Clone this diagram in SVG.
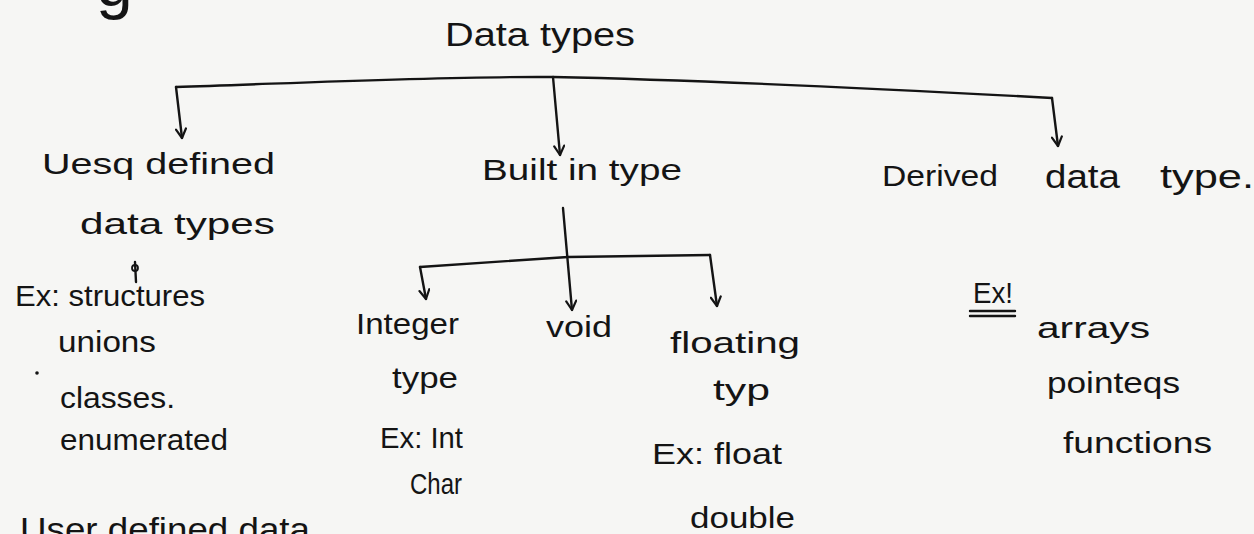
<svg xmlns="http://www.w3.org/2000/svg" width="1254" height="534" viewBox="0 0 1254 534">
  <style>
    .t { font-family: "Liberation Sans", "DejaVu Sans", sans-serif; fill: #141414; font-size: 30px; }
    .big { font-size: 34px; }
    .ln { fill: none; stroke: #141414; stroke-width: 2.4; stroke-linecap: round; stroke-linejoin: round; }
  </style>
  <defs>
    <!-- open V arrowhead, tip at the end of the line -->
    <marker id="head" viewBox="0 0 12 12" refX="11" refY="6" markerWidth="12" markerHeight="12" markerUnits="userSpaceOnUse" orient="auto">
      <path d="M2 1 L11 6 L2 11" fill="none" stroke="#141414" stroke-width="2.2" stroke-linecap="round" stroke-linejoin="round"/>
    </marker>
  </defs>
  <rect width="1254" height="534" fill="#f6f6f4"/>

  <!-- tail of a heading above the page edge -->
  <text class="t" x="96" y="6" style="font-size:66px">g</text>

  <g id="root">
    <text class="t big" x="445" y="46" textLength="190" lengthAdjust="spacingAndGlyphs">Data types</text>
  </g>

  <g id="user-defined">
    <text class="t" x="42" y="174" textLength="233" lengthAdjust="spacingAndGlyphs">Uesq defined</text>
    <text class="t" x="80" y="234" textLength="195" lengthAdjust="spacingAndGlyphs">data types</text>
    <text class="t" x="15" y="306" textLength="190" lengthAdjust="spacingAndGlyphs">Ex: structures</text>
    <circle cx="37" cy="373" r="1.8" fill="#141414"/>
    <text class="t" x="58" y="352" textLength="98" lengthAdjust="spacingAndGlyphs">unions</text>
    <text class="t" x="60" y="408" textLength="115" lengthAdjust="spacingAndGlyphs">classes.</text>
    <text class="t" x="60" y="450" textLength="168" lengthAdjust="spacingAndGlyphs">enumerated</text>
  </g>

  <g id="built-in">
    <text class="t" x="482" y="180" textLength="200" lengthAdjust="spacingAndGlyphs">Built in type</text>
  </g>

  <g id="integer">
    <text class="t" x="356" y="334" textLength="103" lengthAdjust="spacingAndGlyphs">Integer</text>
    <text class="t" x="392" y="388" textLength="66" lengthAdjust="spacingAndGlyphs">type</text>
    <text class="t" x="380" y="448" textLength="83" lengthAdjust="spacingAndGlyphs">Ex: Int</text>
    <text class="t" x="410" y="494" textLength="52" lengthAdjust="spacingAndGlyphs">Char</text>
  </g>

  <g id="void">
    <text class="t" x="546" y="337" textLength="66" lengthAdjust="spacingAndGlyphs">void</text>
  </g>

  <g id="floating">
    <text class="t" x="670" y="353" textLength="130" lengthAdjust="spacingAndGlyphs">floating</text>
    <text class="t" x="713" y="400" textLength="57" lengthAdjust="spacingAndGlyphs">typ</text>
    <text class="t" x="652" y="464" textLength="130" lengthAdjust="spacingAndGlyphs">Ex: float</text>
    <text class="t" x="690" y="528" textLength="105" lengthAdjust="spacingAndGlyphs">double</text>
  </g>

  <g id="derived">
    <text class="t" x="882" y="186" textLength="116" lengthAdjust="spacingAndGlyphs">Derived</text>
    <text class="t big" x="1045" y="188" textLength="75" lengthAdjust="spacingAndGlyphs">data</text>
    <text class="t big" x="1160" y="188" textLength="94" lengthAdjust="spacingAndGlyphs">type.</text>
    <text class="t" x="973" y="303" textLength="40" lengthAdjust="spacingAndGlyphs">Ex!</text>
    <path class="ln" d="M970 311 L1015 311 M970 316 L1015 316" stroke-width="1.8"/>
    <text class="t" x="1037" y="338" textLength="113" lengthAdjust="spacingAndGlyphs">arrays</text>
    <text class="t" x="1047" y="393" textLength="133" lengthAdjust="spacingAndGlyphs">pointeqs</text>
    <text class="t" x="1063" y="453" textLength="149" lengthAdjust="spacingAndGlyphs">functions</text>
  </g>

  <g id="footer">
    <text class="t big" x="20" y="541" textLength="290" lengthAdjust="spacingAndGlyphs">User defined data</text>
  </g>

  <g id="connectors">
    <!-- top-level branch -->
    <path class="ln" d="M176 87 C300 83 450 76 553 77 C700 80 850 87 1052 98"/>
    <path class="ln" d="M176 87 L182 138" marker-end="url(#head)"/>
    <path class="ln" d="M553 77 L560 155" marker-end="url(#head)"/>
    <path class="ln" d="M1052 98 L1058 146" marker-end="url(#head)"/>
    <!-- small pointer under user defined data types -->
    <path class="ln" d="M135 262 L136 282" stroke-width="2"/>
    <circle cx="135" cy="268" r="3" fill="none" stroke="#141414" stroke-width="1.8"/>
    <!-- built in type branch -->
    <path class="ln" d="M420 267 L568 257 L710 255"/>
    <path class="ln" d="M420 267 L426 299" marker-end="url(#head)"/>
    <path class="ln" d="M563 208 L572 310" marker-end="url(#head)"/>
    <path class="ln" d="M710 255 L717 306" marker-end="url(#head)"/>
  </g>
</svg>
